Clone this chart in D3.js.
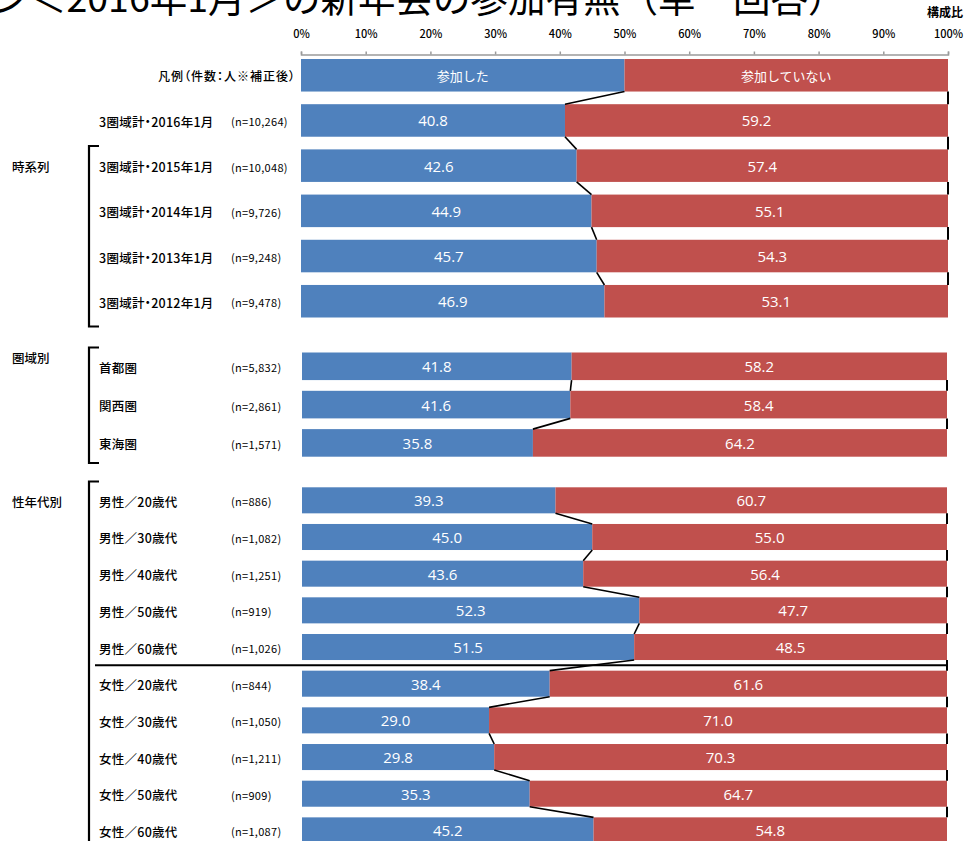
<!DOCTYPE html>
<html lang="ja">
<head>
<meta charset="utf-8">
<script src="https://cdn.jsdelivr.net/npm/d3@7"></script>
<style>
  html, body { margin: 0; padding: 0; background: #fff; overflow: hidden; }
  svg { display: block; }
  text { font-family: "Noto Sans CJK JP", "Noto Sans", sans-serif; }
  .palt { font-feature-settings: "palt" 1; }
</style>
</head>
<body>
<svg id="chart" width="969" height="841"></svg>
<script>
// ---- data ----
const legendLabels = ["参加した", "参加していない"];
const legendShares = [50, 50];

const trendNames = ["3圏域計・2016年1月", "3圏域計・2015年1月", "3圏域計・2014年1月", "3圏域計・2013年1月", "3圏域計・2012年1月"];
const trendN = ["10,264", "10,048", "9,726", "9,248", "9,478"];
const trendYes = [40.8, 42.6, 44.9, 45.7, 46.9];
const trendNo = [59.2, 57.4, 55.1, 54.3, 53.1];

const regionNames = ["首都圏", "関西圏", "東海圏"];
const regionN = ["5,832", "2,861", "1,571"];
const regionYes = [41.8, 41.6, 35.8];
const regionNo = [58.2, 58.4, 64.2];

const sexAgeNames = ["男性／20歳代", "男性／30歳代", "男性／40歳代", "男性／50歳代", "男性／60歳代",
                     "女性／20歳代", "女性／30歳代", "女性／40歳代", "女性／50歳代", "女性／60歳代"];
const sexAgeN = ["886", "1,082", "1,251", "919", "1,026", "844", "1,050", "1,211", "909", "1,087"];
const sexAgeYes = [39.3, 45.0, 43.6, 52.3, 51.5, 38.4, 29.0, 29.8, 35.3, 45.2];
const sexAgeNo = [60.7, 55.0, 56.4, 47.7, 48.5, 61.6, 71.0, 70.3, 64.7, 54.8];

const tickValues = [0, 10, 20, 30, 40, 50, 60, 70, 80, 90, 100];
const groupTitles = ["時系列", "圏域別", "性年代別"];
const titleText = "ン＜2016年1月＞の新年会の参加有無（単一回答）";
const unitText = "構成比";
const legendCaption = "凡例（件数：人※補正後）";

// ---- style ----
const BLUE = "#4F81BD";
const RED = "#C0504D";

const svg = d3.select("#chart");

// title (runs off the top of the page)
svg.append("text")
  .attr("x", -8.5).attr("y", 11.5)
  .attr("font-size", 37.5)
  .attr("fill", "#000")
  .text(titleText);

svg.append("text")
  .attr("x", 963).attr("y", 17)
  .attr("text-anchor", "end")
  .attr("font-size", 12).attr("font-weight", 700)
  .text(unitText);

// ---- panels ----
const panels = [
  {
    rows: [{ name: legendCaption, legend: true, values: legendShares }]
      .concat(trendNames.map((n, i) => ({ name: n, n: trendN[i], values: [trendYes[i], trendNo[i]] }))),
    yRange: [59, 317.5], xRange: [301, 948], pad: 0.28,
    title: groupTitles[0], titleRow: 2, bracket: [146, 326.5]
  },
  {
    rows: regionNames.map((n, i) => ({ name: n, n: regionN[i], values: [regionYes[i], regionNo[i]] })),
    yRange: [352.5, 456.7], xRange: [302, 947], pad: 0.28,
    title: groupTitles[1], titleY: 357, bracket: [347.5, 463]
  },
  {
    rows: sexAgeNames.map((n, i) => ({ name: n, n: sexAgeN[i], values: [sexAgeYes[i], sexAgeNo[i]] })),
    yRange: [487.3, 843.4], xRange: [302, 947], pad: 0.29,
    title: groupTitles[2], titleRow: 0, bracket: [481.5, 900],
    divider: 5
  }
];

panels.forEach((p, pi) => {
  const x = d3.scaleLinear().domain([0, 100]).range(p.xRange);
  const y = d3.scaleBand().domain(d3.range(p.rows.length)).range(p.yRange).paddingInner(p.pad).paddingOuter(0);
  const g = svg.append("g");

  // top axis on the first panel
  if (pi === 0) {
    const ax = svg.append("g")
      .attr("transform", "translate(0,54.5)")
      .call(d3.axisTop(x).tickValues(tickValues).tickSize(3).tickSizeOuter(3).tickPadding(14)
        .tickFormat(d => d + "%"));
    ax.select(".domain").attr("stroke", "#9a9a9a").attr("stroke-width", 1.5);
    ax.selectAll(".tick line").attr("stroke", "#9a9a9a").attr("stroke-width", 1.5);
    ax.selectAll(".tick text")
      .attr("font-size", 11).attr("font-weight", 500).attr("fill", "#000")
      .style("font-family", "'Noto Sans CJK JP', sans-serif");
  }

  // stacked bars
  p.rows.forEach((r, i) => {
    const stack = [0, r.values[0], Math.min(100, r.values[0] + r.values[1])];
    [0, 1].forEach(k => {
      g.append("rect")
        .attr("x", x(stack[k]))
        .attr("y", y(i))
        .attr("width", x(stack[k + 1]) - x(stack[k]))
        .attr("height", y.bandwidth())
        .attr("fill", k === 0 ? BLUE : RED);
      const cx = (x(stack[k]) + x(stack[k + 1])) / 2;
      g.append("text")
        .attr("x", cx)
        .attr("y", y(i) + y.bandwidth() / 2)
        .attr("text-anchor", "middle")
        .attr("dominant-baseline", "central")
        .attr("fill", "#fff")
        .attr("font-size", r.legend ? 13 : 15)
        .style("font-family", r.legend ? "'Noto Sans CJK JP', sans-serif" : "'Open Sans', 'Noto Sans', sans-serif")
        .text(r.legend ? legendLabels[k] : d3.format(".1f")(r.values[k]));
    });

    // row labels
    if (r.legend) {
      g.append("text")
        .attr("class", "palt")
        .attr("x", 296).attr("y", y(i) + y.bandwidth() / 2)
        .attr("text-anchor", "end").attr("dominant-baseline", "central")
        .attr("font-size", 12).attr("font-weight", 500)
        .attr("letter-spacing", 1)
        .text(r.name);
    } else {
      g.append("text")
        .attr("class", "palt")
        .attr("x", 99).attr("y", y(i) + y.bandwidth() / 2 + 1)
        .attr("dominant-baseline", "central")
        .attr("font-size", 12.5).attr("font-weight", 500)
        .attr("letter-spacing", 0.25)
        .text(r.name);
      g.append("text")
        .attr("x", 231).attr("y", y(i) + y.bandwidth() / 2 + 1)
        .attr("dominant-baseline", "central")
        .attr("font-size", 11)
        .attr("letter-spacing", 0.3)
        .text("(n=" + r.n + ")");
    }
  });

  // series lines between neighbouring bars
  for (let i = 0; i < p.rows.length - 1; i++) {
    const a = p.rows[i].values, b = p.rows[i + 1].values;
    const yb = y(i) + y.bandwidth(), yt = y(i + 1);
    g.append("line")
      .attr("x1", x(a[0])).attr("y1", yb)
      .attr("x2", x(b[0])).attr("y2", yt)
      .attr("stroke", "#000").attr("stroke-width", 1.6);
    g.append("line")
      .attr("x1", x(Math.min(100, a[0] + a[1]))).attr("y1", yb)
      .attr("x2", x(Math.min(100, b[0] + b[1]))).attr("y2", yt)
      .attr("stroke", "#000").attr("stroke-width", 2);
  }

  // divider between male and female rows
  if (p.divider !== undefined) {
    const yd = (y(p.divider - 1) + y.bandwidth() + y(p.divider)) / 2;
    g.append("line")
      .attr("x1", 95).attr("x2", x(100) + 1)
      .attr("y1", yd).attr("y2", yd)
      .attr("stroke", "#000").attr("stroke-width", 2);
  }

  // group title and bracket
  const ty = p.titleY !== undefined ? p.titleY : y(p.titleRow) + y.bandwidth() / 2 + 1;
  svg.append("text")
    .attr("x", 12).attr("y", ty)
    .attr("dominant-baseline", "central")
    .attr("font-size", 12.5).attr("font-weight", 500)
    .text(p.title);
  svg.append("path")
    .attr("d", d3.line()([[99, p.bracket[0]], [89, p.bracket[0]], [89, p.bracket[1]], [99, p.bracket[1]]]))
    .attr("fill", "none").attr("stroke", "#000").attr("stroke-width", 2.2);
});
</script>
</body>
</html>
